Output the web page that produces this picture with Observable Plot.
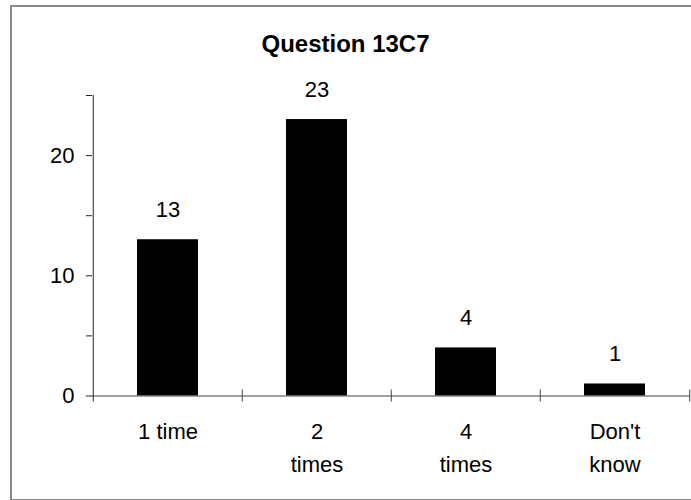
<!DOCTYPE html>
<html>
<head>
<meta charset="utf-8">
<script src="https://cdn.jsdelivr.net/npm/d3@7"></script>
<script src="https://cdn.jsdelivr.net/npm/@observablehq/plot@0.6"></script>
<style>
  html, body { margin: 0; padding: 0; background: #fff; }
  #wrap { position: relative; width: 691px; height: 500px; overflow: hidden; font-family: "Liberation Sans", Arial, sans-serif; }
  #border { position: absolute; left: 10px; top: 5px; width: 720px; height: 492px; border: 2px solid #8c8c8c; box-sizing: content-box; }
  #title { position: absolute; left: 0; width: 691px; top: 32px; text-align: center; font-weight: bold; font-size: 24px; line-height: 24px; color: #000; }
  #chart { position: absolute; left: 0; top: 0; }
</style>
</head>
<body>
<div id="wrap">
  <div id="border"></div>
  <div id="chart"></div>
  <div id="title"></div>
</div>
<script>
const title = "Question 13C7";
const categories = ["1 time", "2 times", "4 times", "Don't know"];
const values = [13, 23, 4, 1];
const categoryLabels = ["1 time", "2\ntimes", "4\ntimes", "Don't\nknow"];
const yTicks = [0, 5, 10, 15, 20, 25];
const yTickLabels = [0, 10, 20];

const data = categories.map((c, i) => ({cat: c, value: values[i], label: categoryLabels[i]}));

const W = 691, H = 500, ML = 92, MR = 1, MT = 95, MB = 104.5;
const step = (W - ML - MR) / categories.length;

document.getElementById("title").textContent = title;

const chart = Plot.plot({
  width: W,
  height: H,
  marginLeft: ML,
  marginRight: MR,
  marginTop: MT,
  marginBottom: MB,
  style: {fontFamily: "'Liberation Sans', Arial, sans-serif", fontSize: "22px", color: "#000", background: "transparent", overflow: "visible"},
  x: {domain: categories, paddingInner: 0.592, paddingOuter: 0.296, axis: null},
  y: {domain: [0, 25]},
  marks: [
    Plot.barY(data, {x: "cat", y: "value", fill: "#000"}),
    Plot.ruleY([0], {stroke: "#444", strokeWidth: 1}),
    Plot.axisY({
      ticks: yTicks,
      tickFormat: d => yTickLabels.includes(d) ? String(d) : "",
      tickSize: 6,
      tickPadding: 12,
      label: null,
      stroke: "#222",
      fontSize: 22
    }),
    // y-axis line (left boundary of first band), extending slightly below zero like a crossing tick
    Plot.ruleX(categories.slice(0, 1), {x: d => d, y1: -0.5, y2: 25, dx: -step / 2, stroke: "#222"}),
    Plot.ruleX(categories.slice(1), {x: d => d, y1: -0.5, y2: 0.5, dx: -step / 2, stroke: "#444"}),
    Plot.ruleX(categories.slice(-1), {x: d => d, y1: -0.5, y2: 0.5, dx: step / 2, stroke: "#444"}),
    Plot.text(data, {x: "cat", y: 0, text: "label", lineAnchor: "top", dy: 20, lineHeight: 1.5, fontSize: 22}),
    Plot.text(data, {x: "cat", y: "value", text: d => String(d.value), dy: -30, fontSize: 22})
  ]
});
document.getElementById("chart").appendChild(chart);
</script>
</body>
</html>
